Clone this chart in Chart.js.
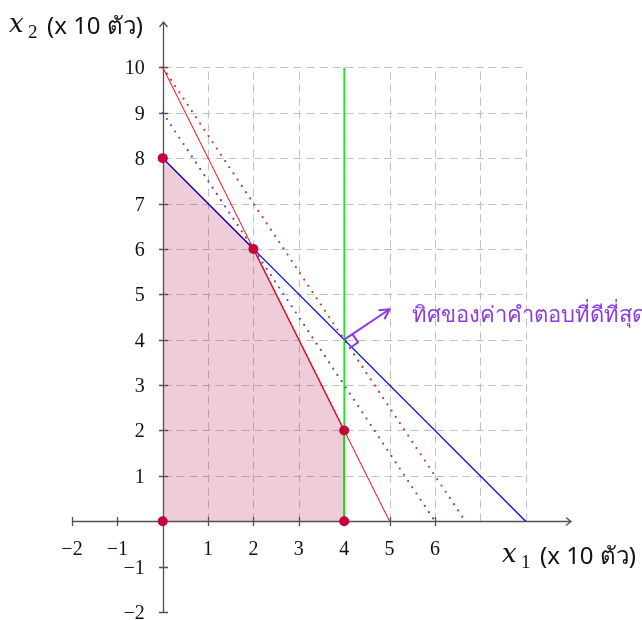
<!DOCTYPE html>
<html>
<head>
<meta charset="utf-8">
<script src="https://cdn.jsdelivr.net/npm/chart.js@4.4.0/dist/chart.umd.min.js"></script>
<style>
  html, body { margin: 0; padding: 0; background: #fff; }
</style>
</head>
<body>
<canvas id="lp" width="642" height="620"></canvas>
<script>
// axis ranges, ticks and grid extent
const xRange = [-2, 9];
const yRange = [-2, 11];
const xTicks = [-2, -1, 1, 2, 3, 4, 5, 6];
const yTicks = [-2, -1, 1, 2, 3, 4, 5, 6, 7, 8, 9, 10];
const gridX = [0, 8];
const gridY = [0, 10];

// corner points of the feasible region
const cornerX = [0, 0, 2, 4, 4];
const cornerY = [0, 8, 6, 2, 0];
// upper boundary of the region (filled down to x2 = 0)
const regionX = [0, 2, 4, 4];
const regionY = [8, 6, 2, 0];

// constraints
const redX = [0, 5],   redY = [10, 0];
const blueX = [0, 8],  blueY = [8, 0];
const greenX = [4, 4], greenY = [0, 10];

// objective lines
const objHighX = [0, 6.67], objHighY = [10, 0];
const objLowX = [0, 6],     objLowY = [9, 0];

// direction of best objective
const arrowX = [4, 5];
const arrowY = [4, 4.67];

const axisUnit = 'x 10 ตัว';
const dirLabel = 'ทิศของค่าคำตอบที่ดีที่สุด';

const pts = (xs, ys) => xs.map((x, i) => ({ x, y: ys[i] }));
const fmt = v => v < 0 ? '\u2212' + (-v) : String(v);

const SERIF = '"Liberation Serif", "DejaVu Serif", serif';
const SANS = '"Noto Sans", "DejaVu Sans", sans-serif';
const VIOLET = '#8a3be2';

const decor = {
  id: 'decor',
  beforeDatasetsDraw(chart) {
    const { ctx, scales: { x, y } } = chart;
    const px = v => Math.round(x.getPixelForValue(v)) + 0.5;
    const py = v => Math.round(y.getPixelForValue(v)) + 0.5;
    ctx.save();
    // dashed grid
    ctx.strokeStyle = '#c0c0c0';
    ctx.lineWidth = 1;
    ctx.setLineDash([8, 5]);
    ctx.beginPath();
    for (let k = gridX[0] + 1; k <= gridX[1]; k++) {
      ctx.moveTo(px(k), py(gridY[0])); ctx.lineTo(px(k), py(gridY[1]));
    }
    for (let k = gridY[0] + 1; k <= gridY[1]; k++) {
      ctx.moveTo(px(gridX[0]), py(k)); ctx.lineTo(px(gridX[1]), py(k));
    }
    ctx.stroke();

    // axes with tick marks and arrows
    ctx.setLineDash([]);
    ctx.strokeStyle = '#505050';
    ctx.lineWidth = 1.3;
    const x0 = px(0), y0 = py(0);
    ctx.beginPath();
    ctx.moveTo(x.left, y0); ctx.lineTo(x.right, y0);
    ctx.moveTo(x0, y.bottom); ctx.lineTo(x0, y.top);
    xTicks.forEach(v => { ctx.moveTo(px(v), y0 - 4.5); ctx.lineTo(px(v), y0 + 4.5); });
    yTicks.forEach(v => { ctx.moveTo(x0 - 4.5, py(v)); ctx.lineTo(x0 + 4.5, py(v)); });
    ctx.moveTo(x.right - 5, y0 - 4); ctx.lineTo(x.right, y0); ctx.lineTo(x.right - 5, y0 + 4);
    ctx.moveTo(x0 - 4, y.top + 5); ctx.lineTo(x0, y.top); ctx.lineTo(x0 + 4, y.top + 5);
    ctx.stroke();
    ctx.restore();
  },
  afterDatasetsDraw(chart) {
    const { ctx, scales: { x, y } } = chart;
    const px = v => x.getPixelForValue(v);
    const py = v => y.getPixelForValue(v);
    ctx.save();

    // arrow head + right angle mark
    const ax0 = px(arrowX[0]), ay0 = py(arrowY[0]);
    const ax1 = px(arrowX[1]), ay1 = py(arrowY[1]);
    const len = Math.hypot(ax1 - ax0, ay1 - ay0);
    const ux = (ax1 - ax0) / len, uy = (ay1 - ay0) / len;
    const vx = -uy, vy = ux;
    ctx.strokeStyle = VIOLET;
    ctx.lineWidth = 2;
    ctx.lineJoin = 'round';
    ctx.lineCap = 'round';
    ctx.beginPath();
    ctx.moveTo(ax1 - 9 * ux + 5 * vx, ay1 - 9 * uy + 5 * vy);
    ctx.lineTo(ax1, ay1);
    ctx.lineTo(ax1 - 9 * ux - 5 * vx, ay1 - 9 * uy - 5 * vy);
    const s = 10;
    ctx.moveTo(ax0 + s * ux, ay0 + s * uy);
    ctx.lineTo(ax0 + s * ux + s * vx, ay0 + s * uy + s * vy);
    ctx.lineTo(ax0 + s * vx, ay0 + s * vy);
    ctx.stroke();

    ctx.fillStyle = VIOLET;
    ctx.font = '22px ' + SANS;
    ctx.textAlign = 'left';
    ctx.textBaseline = 'alphabetic';
    ctx.fillText(dirLabel, ax1 + 22, ay1 + 13);

    // tick labels
    const x0 = px(0), y0 = py(0);
    ctx.fillStyle = '#111';
    ctx.font = '20px ' + SERIF;
    ctx.textAlign = 'center';
    xTicks.forEach(v => ctx.fillText(fmt(v), px(v), y0 + 34));
    ctx.textAlign = 'right';
    yTicks.forEach(v => ctx.fillText(fmt(v), x0 - 18, py(v) + 7));

    // axis titles
    const title = (sub, xx, base) => {
      ctx.textAlign = 'left';
      ctx.font = 'italic 26px "DejaVu Serif", serif';
      ctx.fillText('x', xx, base);
      ctx.font = '19px ' + SERIF;
      ctx.fillText(sub, xx + 19, base + 6);
      ctx.font = '24px ' + SANS;
      ctx.fillText('(' + axisUnit + ')', xx + 38, base + 1.5);
    };
    title('2', 9, 32);
    title('1', 502, 562);
    ctx.restore();
  }
};

const lineDs = (label, xs, ys, color, width, order, extra) => Object.assign({
  label, data: pts(xs, ys), borderColor: color, borderWidth: width,
  pointRadius: 0, fill: false, tension: 0, order
}, extra || {});

new Chart(document.getElementById('lp'), {
  type: 'line',
  data: {
    datasets: [
      {
        label: 'corners', data: pts(cornerX, cornerY), showLine: false,
        pointRadius: 5, pointBackgroundColor: '#c8003c', pointBorderWidth: 0, order: 0
      },
      lineDs('direction', arrowX, arrowY, VIOLET, 2, 1),
      lineDs('x1 = 4', greenX, greenY, '#00ee00', 1.5, 2),
      lineDs('x1 + x2 = 8', blueX, blueY, '#0000ff', 1.2, 3),
      lineDs('2x1 + x2 = 10', redX, redY, '#ff0000', 1, 4),
      lineDs('z high', objHighX, objHighY, '#c0392b', 2.2, 5,
        { borderDash: [0, 7.5], borderCapStyle: 'round' }),
      lineDs('z low', objLowX, objLowY, '#6a3db8', 2.2, 6,
        { borderDash: [0, 7.5], borderCapStyle: 'round' }),
      lineDs('feasible', regionX, regionY, 'rgba(150,0,40,0.75)', 1.4, 7,
        { fill: 'origin', backgroundColor: 'rgba(190,40,100,0.24)' })
    ]
  },
  options: {
    responsive: false,
    animation: false,
    layout: { padding: { left: 72, right: 71, top: 22, bottom: 8 } },
    plugins: { legend: { display: false }, tooltip: { enabled: false } },
    scales: {
      x: { type: 'linear', min: xRange[0], max: xRange[1], display: false },
      y: { type: 'linear', min: yRange[0], max: yRange[1], display: false }
    }
  },
  plugins: [decor]
});
</script>
</body>
</html>
